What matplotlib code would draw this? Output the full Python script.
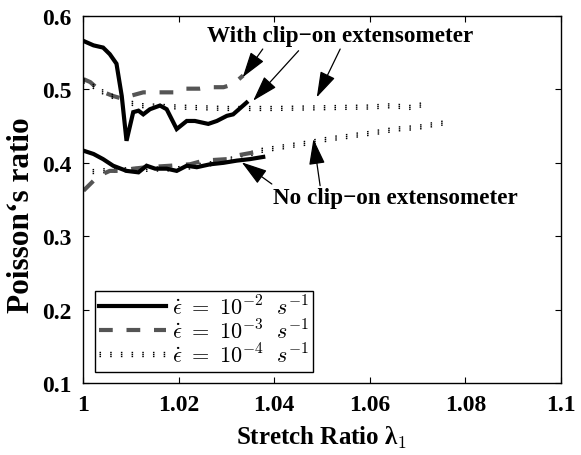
import numpy as np
import matplotlib
matplotlib.use('Agg')
import matplotlib.pyplot as plt
from matplotlib import patheffects as pe

plt.rcParams['font.family'] = 'Liberation Serif'
plt.rcParams['font.weight'] = 'bold'
plt.rcParams['mathtext.fontset'] = 'cm'

# strain rate 1e-2, with clip-on extensometer
x_c2 = [1.0001, 1.0022, 1.0042, 1.0056, 1.0070, 1.0081, 1.0091, 1.0105, 1.0116, 1.0126,
        1.0140, 1.0161, 1.0175, 1.0196, 1.0217, 1.0234, 1.0262, 1.0280, 1.0301, 1.0314, 1.0342]
y_c2 = [0.566, 0.560, 0.557, 0.548, 0.535, 0.491, 0.430, 0.469, 0.471, 0.466,
        0.473, 0.478, 0.473, 0.446, 0.457, 0.457, 0.453, 0.457, 0.464, 0.466, 0.482]

# strain rate 1e-3, with clip-on extensometer
x_c3 = [1.0001, 1.0015, 1.0036, 1.0063, 1.0084, 1.0098, 1.0126, 1.0154, 1.0189, 1.0210,
        1.0245, 1.0266, 1.0294, 1.0314, 1.0335]
y_c3 = [0.514, 0.510, 0.498, 0.491, 0.487, 0.491, 0.496, 0.496, 0.496, 0.501,
        0.501, 0.503, 0.503, 0.507, 0.519]

# strain rate 1e-4, with clip-on extensometer
x_c4 = [1.0001, 1.004, 1.008, 1.012, 1.020, 1.030, 1.040, 1.050, 1.060, 1.065, 1.068, 1.0709]
y_c4 = [0.512, 0.497, 0.485, 0.478, 0.476, 0.474, 0.474, 0.475, 0.476, 0.478, 0.475, 0.479]

# strain rate 1e-2, no clip-on extensometer
x_n2 = [1.0001, 1.0022, 1.0042, 1.0063, 1.0091, 1.0116, 1.0133, 1.0151, 1.0175, 1.0196,
        1.0217, 1.0238, 1.0266, 1.0294, 1.0322, 1.0349, 1.0377]
y_n2 = [0.4165, 0.412, 0.405, 0.396, 0.389, 0.387, 0.396, 0.392, 0.392, 0.389,
        0.396, 0.394, 0.398, 0.400, 0.403, 0.405, 0.408]

# strain rate 1e-3, no clip-on extensometer
x_n3 = [1.0001, 1.0015, 1.0032, 1.0056, 1.0077, 1.0105, 1.0133, 1.0182, 1.0224, 1.0252,
        1.0301, 1.0322, 1.0356]
y_n3 = [0.362, 0.371, 0.382, 0.389, 0.389, 0.392, 0.394, 0.396, 0.398, 0.403,
        0.405, 0.410, 0.414]

# strain rate 1e-4, no clip-on extensometer
x_n4 = [1.002, 1.006, 1.012, 1.020, 1.028, 1.034, 1.037, 1.0412, 1.046, 1.051, 1.0565,
        1.0614, 1.0656, 1.0698, 1.074, 1.0764]
y_n4 = [0.388, 0.390, 0.391, 0.392, 0.400, 0.410, 0.4165, 0.421, 0.426, 0.432, 0.437,
        0.4415, 0.446, 0.448, 0.453, 0.455]

labels = [r'$\dot{\epsilon}\ =\ 10^{-2}\ \ s^{-1}$',
          r'$\dot{\epsilon}\ =\ 10^{-3}\ \ s^{-1}$',
          r'$\dot{\epsilon}\ =\ 10^{-4}\ \ s^{-1}$']

xticks = [1, 1.02, 1.04, 1.06, 1.08, 1.1]
xticklabels = ['1', '1.02', '1.04', '1.06', '1.08', '1.1']
yticks = [0.1, 0.2, 0.3, 0.4, 0.5, 0.6]

fig = plt.figure(figsize=(5.81, 4.56), dpi=100)
ax = fig.add_axes([0.1429, 0.1579, 0.8227, 0.8048])

solid = dict(color='black', lw=3.0, solid_joinstyle='miter')
dashed = dict(color='#555555', lw=3.0, dashes=(3.3, 3.3), dash_capstyle='butt')
# short vertical ticks for the dotted runs
dot_fx = [pe.Stroke(offset=(0, -1.4)), pe.Stroke(offset=(0, 0)), pe.Stroke(offset=(0, 1.4))]
dotted = dict(color='black', lw=1.0, dashes=(1.1, 6.6), dash_capstyle='butt',
              path_effects=dot_fx)

h2, = ax.plot(x_c2, y_c2, label=labels[0], **solid)
h3, = ax.plot(x_c3, y_c3, label=labels[1], **dashed)
h4, = ax.plot(x_c4, y_c4, label=labels[2], **dotted)
ax.plot(x_n4, y_n4, **dotted)
ax.plot(x_n3, y_n3, **dashed)
ax.plot(x_n2, y_n2, **solid)

arrow = dict(arrowstyle='-|>,head_length=1.6,head_width=0.5', color='black',
             lw=0.9, shrinkA=0, shrinkB=0)
for tail, tip in [((1.0376, 0.555), (1.0334, 0.5165)),
                  ((1.0451, 0.5527), (1.0356, 0.4846)),
                  ((1.0538, 0.555), (1.0489, 0.4892)),
                  ((1.0395, 0.3711), (1.0332, 0.4007)),
                  ((1.0496, 0.3688), (1.0482, 0.4324))]:
    ax.annotate('', xy=tip, xytext=tail, arrowprops=arrow)

ax.text(1.0537, 0.574, 'With clip\u2212on extensometer', ha='center', va='center',
        fontsize=16.7, fontweight='bold')
ax.text(1.0653, 0.3534, 'No clip\u2212on extensometer', ha='center', va='center',
        fontsize=16.7, fontweight='bold')

ax.set_xlim(1, 1.1)
ax.set_ylim(0.1, 0.6)
ax.set_xticks(xticks)
ax.set_xticklabels(xticklabels)
ax.set_yticks(yticks)
ax.set_yticklabels(['%.1f' % v for v in yticks])
ax.tick_params(direction='in', top=True, right=True, length=4, width=0.8,
               labelsize=17, pad=8)
for s in ax.spines.values():
    s.set_linewidth(1.0)

ax.set_xlabel('Stretch Ratio \u03bb$_\\mathbf{1}$', fontsize=18, fontweight='bold', labelpad=6)
ax.set_ylabel('Poisson\u2018s ratio', fontsize=22.5, fontweight='bold')
ax.yaxis.set_label_coords(-0.098, 0.46)

leg = ax.legend(handles=[h2, h3, h4], loc='lower left', bbox_to_anchor=(0.025, 0.031),
                borderaxespad=0, fontsize=16, handlelength=3.0, fancybox=False,
                framealpha=1, edgecolor='black', borderpad=0.2, labelspacing=0.0,
                handletextpad=0.25)
leg.get_frame().set_linewidth(1.0)

fig.savefig('out.png', dpi=100)
